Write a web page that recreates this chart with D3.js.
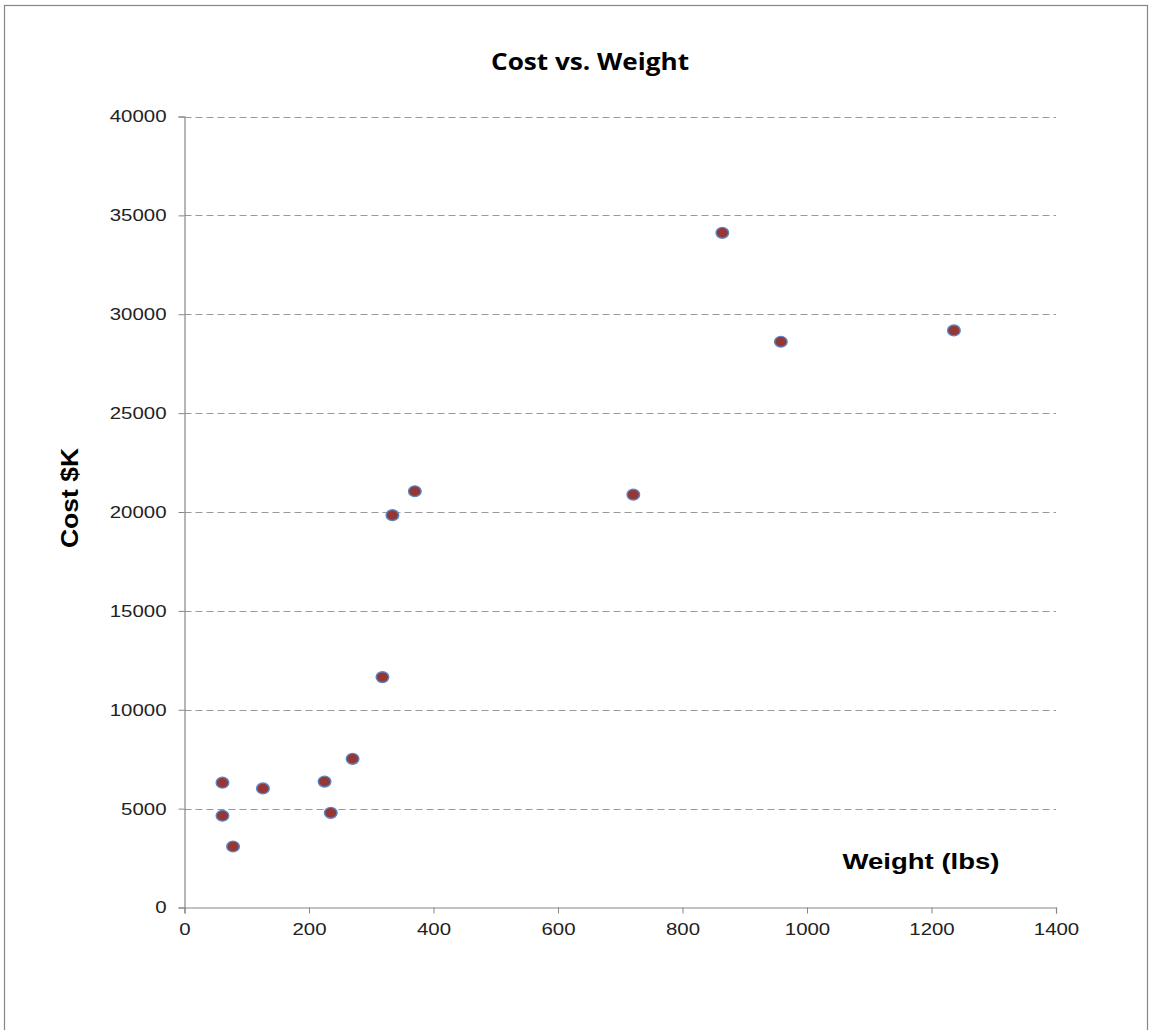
<!DOCTYPE html>
<html>
<head>
<meta charset="utf-8">
<script src="https://d3js.org/d3.v7.min.js"></script>
<style>
  html, body { margin: 0; padding: 0; background: #fff; }
  svg { display: block; }
</style>
</head>
<body>
<script>
// Weight (lbs) and cost ($K) of each item
const weights = [61, 61, 78, 126, 225, 235, 270, 318, 334, 370, 721, 864, 958, 1236];
const costs   = [6310, 4640, 3085, 6020, 6370, 4790, 7520, 11650, 19840, 21050, 20880, 34120, 28610, 29180];

const xTicks = [0, 200, 400, 600, 800, 1000, 1200, 1400];
const yTicks = [0, 5000, 10000, 15000, 20000, 25000, 30000, 35000, 40000];

const W = 1151, H = 1030;
const WIDEN = 1.2; // text is drawn a little wider than the font's natural width

const svg = d3.select("body").append("svg").attr("width", W).attr("height", H);

// stretch a text node horizontally while keeping its anchor
function widen(sel, k) {
  sel.each(function () {
    const len = this.getComputedTextLength();
    d3.select(this).attr("textLength", len * k).attr("lengthAdjust", "spacingAndGlyphs");
  });
}

// outer chart frame (bottom edge runs past the page)
svg.append("rect")
  .attr("x", 4.5).attr("y", 5.5)
  .attr("width", 1143).attr("height", 1040)
  .attr("fill", "#fff").attr("stroke", "#868686").attr("stroke-width", 1.2);

const x = d3.scaleLinear().domain([0, 1400]).range([184.5, 1056]);
const y = d3.scaleLinear().domain([0, 40000]).range([907.5, 116.5]);

// horizontal dashed gridlines
svg.append("g").selectAll("line").data(yTicks.filter(d => d > 0)).join("line")
  .attr("x1", x(0)).attr("x2", x(1400))
  .attr("y1", d => Math.round(y(d)) + 0.5).attr("y2", d => Math.round(y(d)) + 0.5)
  .attr("stroke", "#9a9a9a").attr("stroke-width", 1.1)
  .attr("stroke-dasharray", "7,4");

const tickFont = "'Liberation Sans', Arial, sans-serif";

// y axis
const yAxis = svg.append("g")
  .attr("transform", `translate(${x(0)},0)`)
  .call(d3.axisLeft(y).tickValues(yTicks).tickSize(6).tickPadding(12).tickFormat(d3.format("d")));
yAxis.select(".domain").attr("stroke", "#868686").attr("stroke-width", 1.2);
yAxis.selectAll(".tick line").attr("stroke", "#868686");
yAxis.selectAll("text").attr("font-family", tickFont).attr("font-size", 17).attr("fill", "#222")
  .call(widen, WIDEN);

// x axis
const xAxis = svg.append("g")
  .attr("transform", `translate(0,${y(0)})`)
  .call(d3.axisBottom(x).tickValues(xTicks).tickSize(6).tickPadding(9).tickFormat(d3.format("d")));
xAxis.select(".domain").attr("stroke", "#868686").attr("stroke-width", 1.2);
xAxis.selectAll(".tick line").attr("stroke", "#868686");
xAxis.selectAll("text").attr("font-family", tickFont).attr("font-size", 17).attr("fill", "#222")
  .call(widen, WIDEN);

// points
svg.append("g").selectAll("ellipse").data(weights.map((w, i) => [w, costs[i]])).join("ellipse")
  .attr("cx", d => x(d[0])).attr("cy", d => y(d[1]))
  .attr("rx", 6.3).attr("ry", 5.4)
  .attr("fill", "#953735")
  .attr("stroke", "#5b86c5").attr("stroke-width", 1.4);

// title
svg.append("text")
  .attr("x", 590).attr("y", 70)
  .attr("text-anchor", "middle")
  .attr("font-family", "'Open Sans', sans-serif")
  .attr("font-weight", "bold").attr("font-size", 23)
  .attr("fill", "#000")
  .text("Cost vs. Weight")
  .attr("textLength", 198).attr("lengthAdjust", "spacingAndGlyphs");

// axis titles
svg.append("text")
  .attr("x", 921).attr("y", 869)
  .attr("text-anchor", "middle")
  .attr("font-family", "'Liberation Sans', Arial, sans-serif")
  .attr("font-weight", "bold").attr("font-size", 22)
  .attr("fill", "#000")
  .text("Weight (lbs)")
  .attr("textLength", 157).attr("lengthAdjust", "spacingAndGlyphs");

svg.append("text")
  .attr("transform", "translate(78,498) rotate(-90)")
  .attr("text-anchor", "middle")
  .attr("font-family", "'Liberation Sans', Arial, sans-serif")
  .attr("font-weight", "bold").attr("font-size", 23)
  .attr("fill", "#000")
  .text("Cost $K")
  .attr("textLength", 100).attr("lengthAdjust", "spacingAndGlyphs");
</script>
</body>
</html>
